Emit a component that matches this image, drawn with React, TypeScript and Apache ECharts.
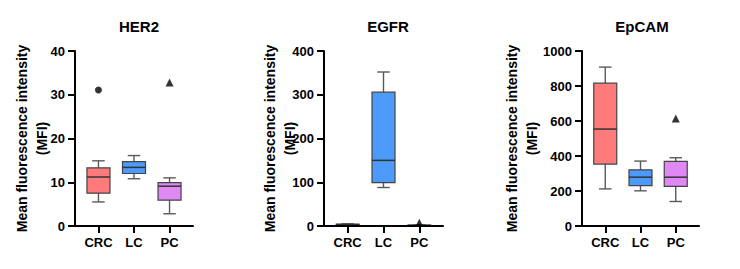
import React, { useEffect, useRef } from 'react';
import * as echarts from 'echarts';

const categories = ['CRC', 'LC', 'PC'];
const panelTitles = ['HER2', 'EGFR', 'EpCAM'];
// [min, Q1, median, Q3, max] for CRC, LC, PC
const her2Boxes = [
  [5.5, 7.5, 11.2, 13.3, 14.9],
  [10.8, 12.0, 13.4, 14.7, 16.1],
  [2.8, 5.9, 9.1, 9.9, 11.0],
];
const egfrBoxes = [
  [2, 3, 3.5, 4, 5],
  [88, 99, 150, 306, 352],
  [0.5, 1, 1.5, 2, 2.5],
];
const epcamBoxes = [
  [212, 354, 554, 816, 908],
  [201, 231, 279, 321, 371],
  [140, 226, 279, 369, 390],
];
// outliers: [category index, value]
const her2Outliers = [[0, 31.1], [2, 32.8]];
const egfrOutliers = [[2, 7.6]];
const epcamOutliers = [[2, 614]];
const yMaxes = [40, 400, 1000];
const yIntervals = [10, 100, 200];
const boxColors = ['#FF7B7B', '#4C9BFA', '#E089F4'];
const outlierSymbols = ['circle', 'rect', 'triangle'];

const FONT = '"Liberation Sans", Arial, sans-serif';

const gridLefts = [75, 324, 582];
const gridWidths = [118, 119, 117];
const titleCenters = [134, 383, 637];
const nameGaps = [23, 24, 40];

export default function App() {
  const ref = useRef<HTMLDivElement>(null);
  useEffect(() => {
    if (!ref.current) return;
    const chart = echarts.init(ref.current, undefined, { renderer: 'svg' });
    const boxesAll = [her2Boxes, egfrBoxes, epcamBoxes];
    const outliersAll = [her2Outliers, egfrOutliers, epcamOutliers];

    const renderBox = (params: any, api: any) => {
      const x = api.value(0);
      const pMin = api.coord([x, api.value(1)]);
      const pQ1 = api.coord([x, api.value(2)]);
      const pMed = api.coord([x, api.value(3)]);
      const pQ3 = api.coord([x, api.value(4)]);
      const pMax = api.coord([x, api.value(5)]);
      const cx = pMin[0];
      const bw = 23;
      const cw = 12.5;
      const wStyle = { stroke: '#5a5a5a', lineWidth: 1.4 };
      return {
        type: 'group',
        children: [
          { type: 'line', shape: { x1: cx, y1: pMax[1], x2: cx, y2: pQ3[1] }, style: wStyle },
          { type: 'line', shape: { x1: cx, y1: pQ1[1], x2: cx, y2: pMin[1] }, style: wStyle },
          { type: 'line', shape: { x1: cx - cw / 2, y1: pMax[1], x2: cx + cw / 2, y2: pMax[1] }, style: wStyle },
          { type: 'line', shape: { x1: cx - cw / 2, y1: pMin[1], x2: cx + cw / 2, y2: pMin[1] }, style: wStyle },
          {
            type: 'rect',
            shape: { x: cx - bw / 2, y: pQ3[1], width: bw, height: pQ1[1] - pQ3[1] },
            style: { fill: boxColors[x], stroke: '#444', lineWidth: 1.2 },
          },
          { type: 'line', shape: { x1: cx - bw / 2, y1: pMed[1], x2: cx + bw / 2, y2: pMed[1] }, style: { stroke: '#333', lineWidth: 1.5 } },
        ],
      };
    };

    const grid: any[] = [];
    const xAxis: any[] = [];
    const yAxis: any[] = [];
    const series: any[] = [];
    const title: any[] = [];
    for (let i = 0; i < 3; i++) {
      grid.push({ left: gridLefts[i], top: 51, width: gridWidths[i], height: 175 });
      title.push({
        text: panelTitles[i],
        left: titleCenters[i],
        top: 14,
        textAlign: 'center',
        textStyle: { fontFamily: FONT, fontSize: 15, fontWeight: 'bold', color: '#000' },
      });
      xAxis.push({
        type: 'value',
        gridIndex: i,
        min: -0.66,
        max: 2.66,
        z: 3,
        splitLine: { show: false },
        axisLine: { show: true, onZero: false, lineStyle: { color: '#000', width: 2 } },
        axisTick: { show: true, customValues: [0, 1, 2], length: 7, lineStyle: { color: '#000', width: 2 } },
        axisLabel: {
          customValues: [0, 1, 2],
          formatter: (v: number) => categories[Math.round(v)] ?? '',
          margin: 10,
          fontFamily: FONT,
          fontSize: 13,
          fontWeight: 'bold',
          color: '#000',
        },
      });
      yAxis.push({
        type: 'value',
        gridIndex: i,
        min: 0,
        max: yMaxes[i],
        interval: yIntervals[i],
        z: 3,
        name: 'Mean fluorescence intensity\n(MFI)',
        nameLocation: 'middle',
        nameRotate: 90,
        nameGap: nameGaps[i],
        nameMoveOverlap: false,
        nameTextStyle: { fontFamily: FONT, fontSize: 14, fontWeight: 'bold', color: '#000', lineHeight: 20 },
        splitLine: { show: false },
        axisLine: { show: true, onZero: false, lineStyle: { color: '#000', width: 2 } },
        axisTick: { show: true, length: 7, lineStyle: { color: '#000', width: 2 } },
        axisLabel: {
          margin: 10,
          fontFamily: FONT,
          fontSize: 13,
          fontWeight: 'bold',
          color: '#000',
          formatter: (v: number) => String(v),
        },
      });
      series.push({
        type: 'custom',
        xAxisIndex: i,
        yAxisIndex: i,
        z: 2,
        renderItem: renderBox,
        encode: { x: 0, y: [1, 2, 3, 4, 5] },
        data: boxesAll[i].map((b, k) => [k, ...b]),
      });
      series.push({
        type: 'scatter',
        xAxisIndex: i,
        yAxisIndex: i,
        z: 5,
        data: outliersAll[i].map((o) => ({
          value: o,
          symbol: outlierSymbols[o[0]],
          symbolSize: outlierSymbols[o[0]] === 'triangle' ? 8 : 7,
        })),
        itemStyle: { color: '#000' },
      });
    }

    chart.setOption({
      animation: false,
      backgroundColor: '#fff',
      title,
      grid,
      xAxis,
      yAxis,
      series,
    });
    return () => chart.dispose();
  }, []);
  return <div ref={ref} style={{ position: 'fixed', left: 0, top: 0, width: 740, height: 269 }} />;
}
